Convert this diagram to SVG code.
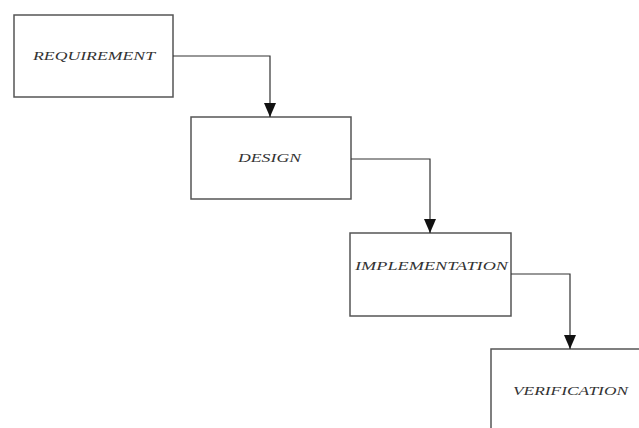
<svg xmlns="http://www.w3.org/2000/svg" width="639" height="428" viewBox="0 0 639 428">
<defs>
<marker id="arr" viewBox="0 0 14 12" refX="14" refY="6" markerWidth="14" markerHeight="12" markerUnits="userSpaceOnUse" orient="auto">
<path d="M0,0 L14,6 L0,12 Z" fill="#111"/>
</marker>
<style>
.box{fill:#fff;stroke:#555;stroke-width:1.5}
.lbl{font-family:"Liberation Serif",serif;font-style:italic;font-size:13px;fill:#333;text-anchor:start}
.con{fill:none;stroke:#333;stroke-width:1.2}
</style>
</defs>
<rect width="639" height="428" fill="#fff"/>
<g id="requirement">
<rect class="box" x="14" y="15" width="159" height="82"/>
<text class="lbl" x="33" y="60" textLength="122" lengthAdjust="spacingAndGlyphs">REQUIREMENT</text>
</g>
<g id="design">
<rect class="box" x="191" y="117" width="160" height="82"/>
<text class="lbl" x="238" y="162" textLength="63" lengthAdjust="spacingAndGlyphs">DESIGN</text>
</g>
<g id="implementation">
<rect class="box" x="350" y="233" width="161" height="83"/>
<text class="lbl" x="355" y="270" textLength="153" lengthAdjust="spacingAndGlyphs">IMPLEMENTATION</text>
</g>
<g id="verification">
<path class="box" d="M491,428 L491,349 L640,349" />
<text class="lbl" x="513" y="395" textLength="115" lengthAdjust="spacingAndGlyphs">VERIFICATION</text>
</g>
<g id="connectors">
<path class="con" d="M173,56 L270,56 L270,117" marker-end="url(#arr)"/>
<path class="con" d="M351,159 L430,159 L430,233" marker-end="url(#arr)"/>
<path class="con" d="M511,274 L570,274 L570,349" marker-end="url(#arr)"/>
</g>
</svg>
